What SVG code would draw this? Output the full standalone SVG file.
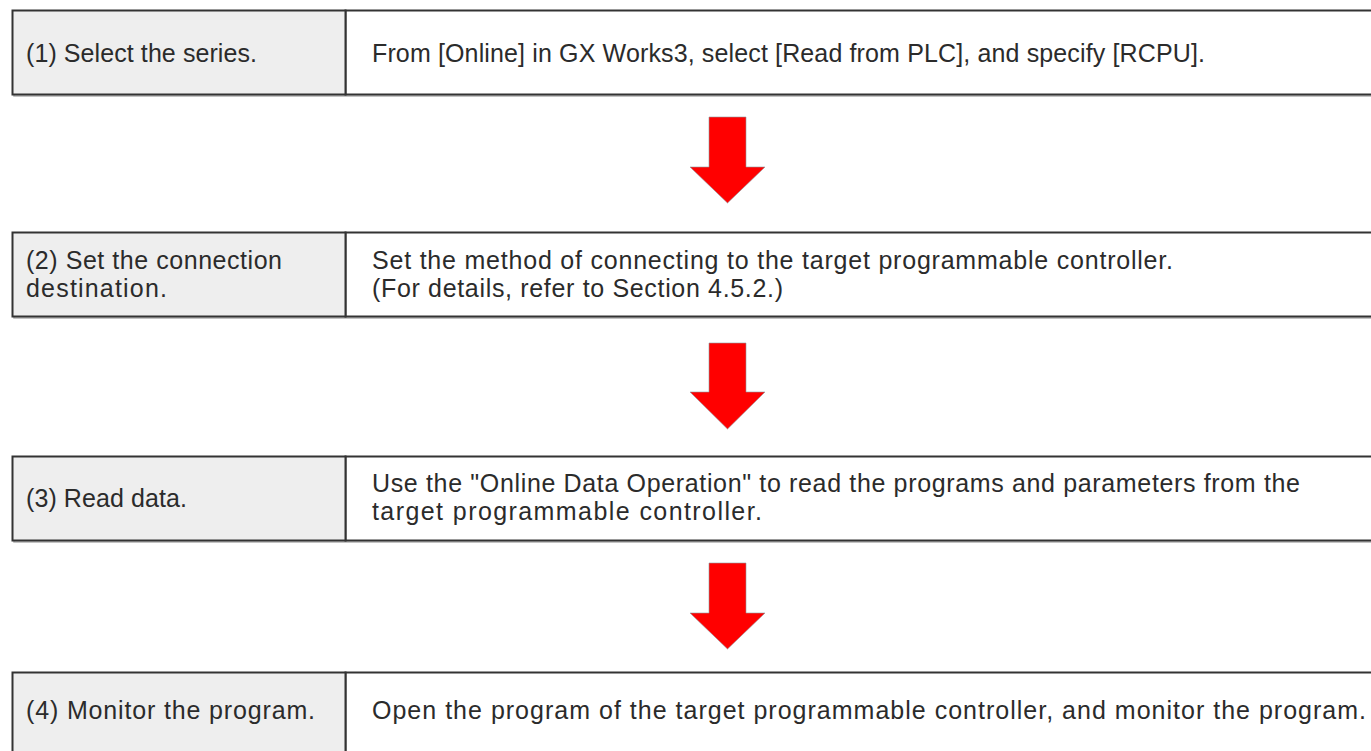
<svg xmlns="http://www.w3.org/2000/svg" width="1371" height="751" viewBox="0 0 1371 751">
<style>
.lab{fill:#eeeeee;stroke:#333333;stroke-width:2}
.det{fill:#ffffff;stroke:#333333;stroke-width:2}
.shd{fill:none;stroke:#b0b0b0;stroke-width:1.5}
text{font-family:"Liberation Sans",Arial,sans-serif;font-size:25px;fill:#2b2b2b}
.arr{fill:#ff0000;stroke:#8a9aa0;stroke-width:0.6}
</style>
<rect width="1371" height="751" fill="#ffffff"/>
<g id="step1">
<rect class="shd" x="14" y="12" width="1380" height="84"/>
<rect class="det" x="345.5" y="10.5" width="1040" height="84"/>
<rect class="lab" x="12.5" y="10.5" width="333" height="84"/>
<text x="26" y="62" textLength="231" lengthAdjust="spacing">(1) Select the series.</text>
<text x="372" y="62" textLength="833" lengthAdjust="spacing">From [Online] in GX Works3, select [Read from PLC], and specify [RCPU].</text>
</g>
<g id="step2">
<rect class="shd" x="14" y="234" width="1380" height="84"/>
<rect class="det" x="345.5" y="232.5" width="1040" height="84"/>
<rect class="lab" x="12.5" y="232.5" width="333" height="84"/>
<text x="26" y="268.5" textLength="256" lengthAdjust="spacing">(2) Set the connection</text>
<text x="26" y="297" textLength="141" lengthAdjust="spacing">destination.</text>
<text x="372" y="268.5" textLength="801" lengthAdjust="spacing">Set the method of connecting to the target programmable controller.</text>
<text x="372" y="297" textLength="411" lengthAdjust="spacing">(For details, refer to Section 4.5.2.)</text>
</g>
<g id="step3">
<rect class="shd" x="14" y="458" width="1380" height="84"/>
<rect class="det" x="345.5" y="456.5" width="1040" height="84"/>
<rect class="lab" x="12.5" y="456.5" width="333" height="84"/>
<text x="26" y="507" textLength="161" lengthAdjust="spacing">(3) Read data.</text>
<text x="372" y="491.5" textLength="928" lengthAdjust="spacing">Use the "Online Data Operation" to read the programs and parameters from the</text>
<text x="372" y="520" textLength="390" lengthAdjust="spacing">target programmable controller.</text>
</g>
<g id="step4">
<rect class="det" x="345.5" y="672.5" width="1040" height="90"/>
<rect class="lab" x="12.5" y="672.5" width="333" height="90"/>
<text x="26" y="719" textLength="289" lengthAdjust="spacing">(4) Monitor the program.</text>
<text x="372" y="719" textLength="994" lengthAdjust="spacing">Open the program of the target programmable controller, and monitor the program.</text>
</g>
<g id="connectors">
<polygon class="arr" points="709,117 746,117 746,167 765,167 727.5,203 690,167 709,167"/>
<polygon class="arr" points="709,343 746,343 746,392 765,392 727.5,429 690,392 709,392"/>
<polygon class="arr" points="709,563 746,563 746,613 765,613 727.5,649 690,613 709,613"/>
</g>
</svg>
